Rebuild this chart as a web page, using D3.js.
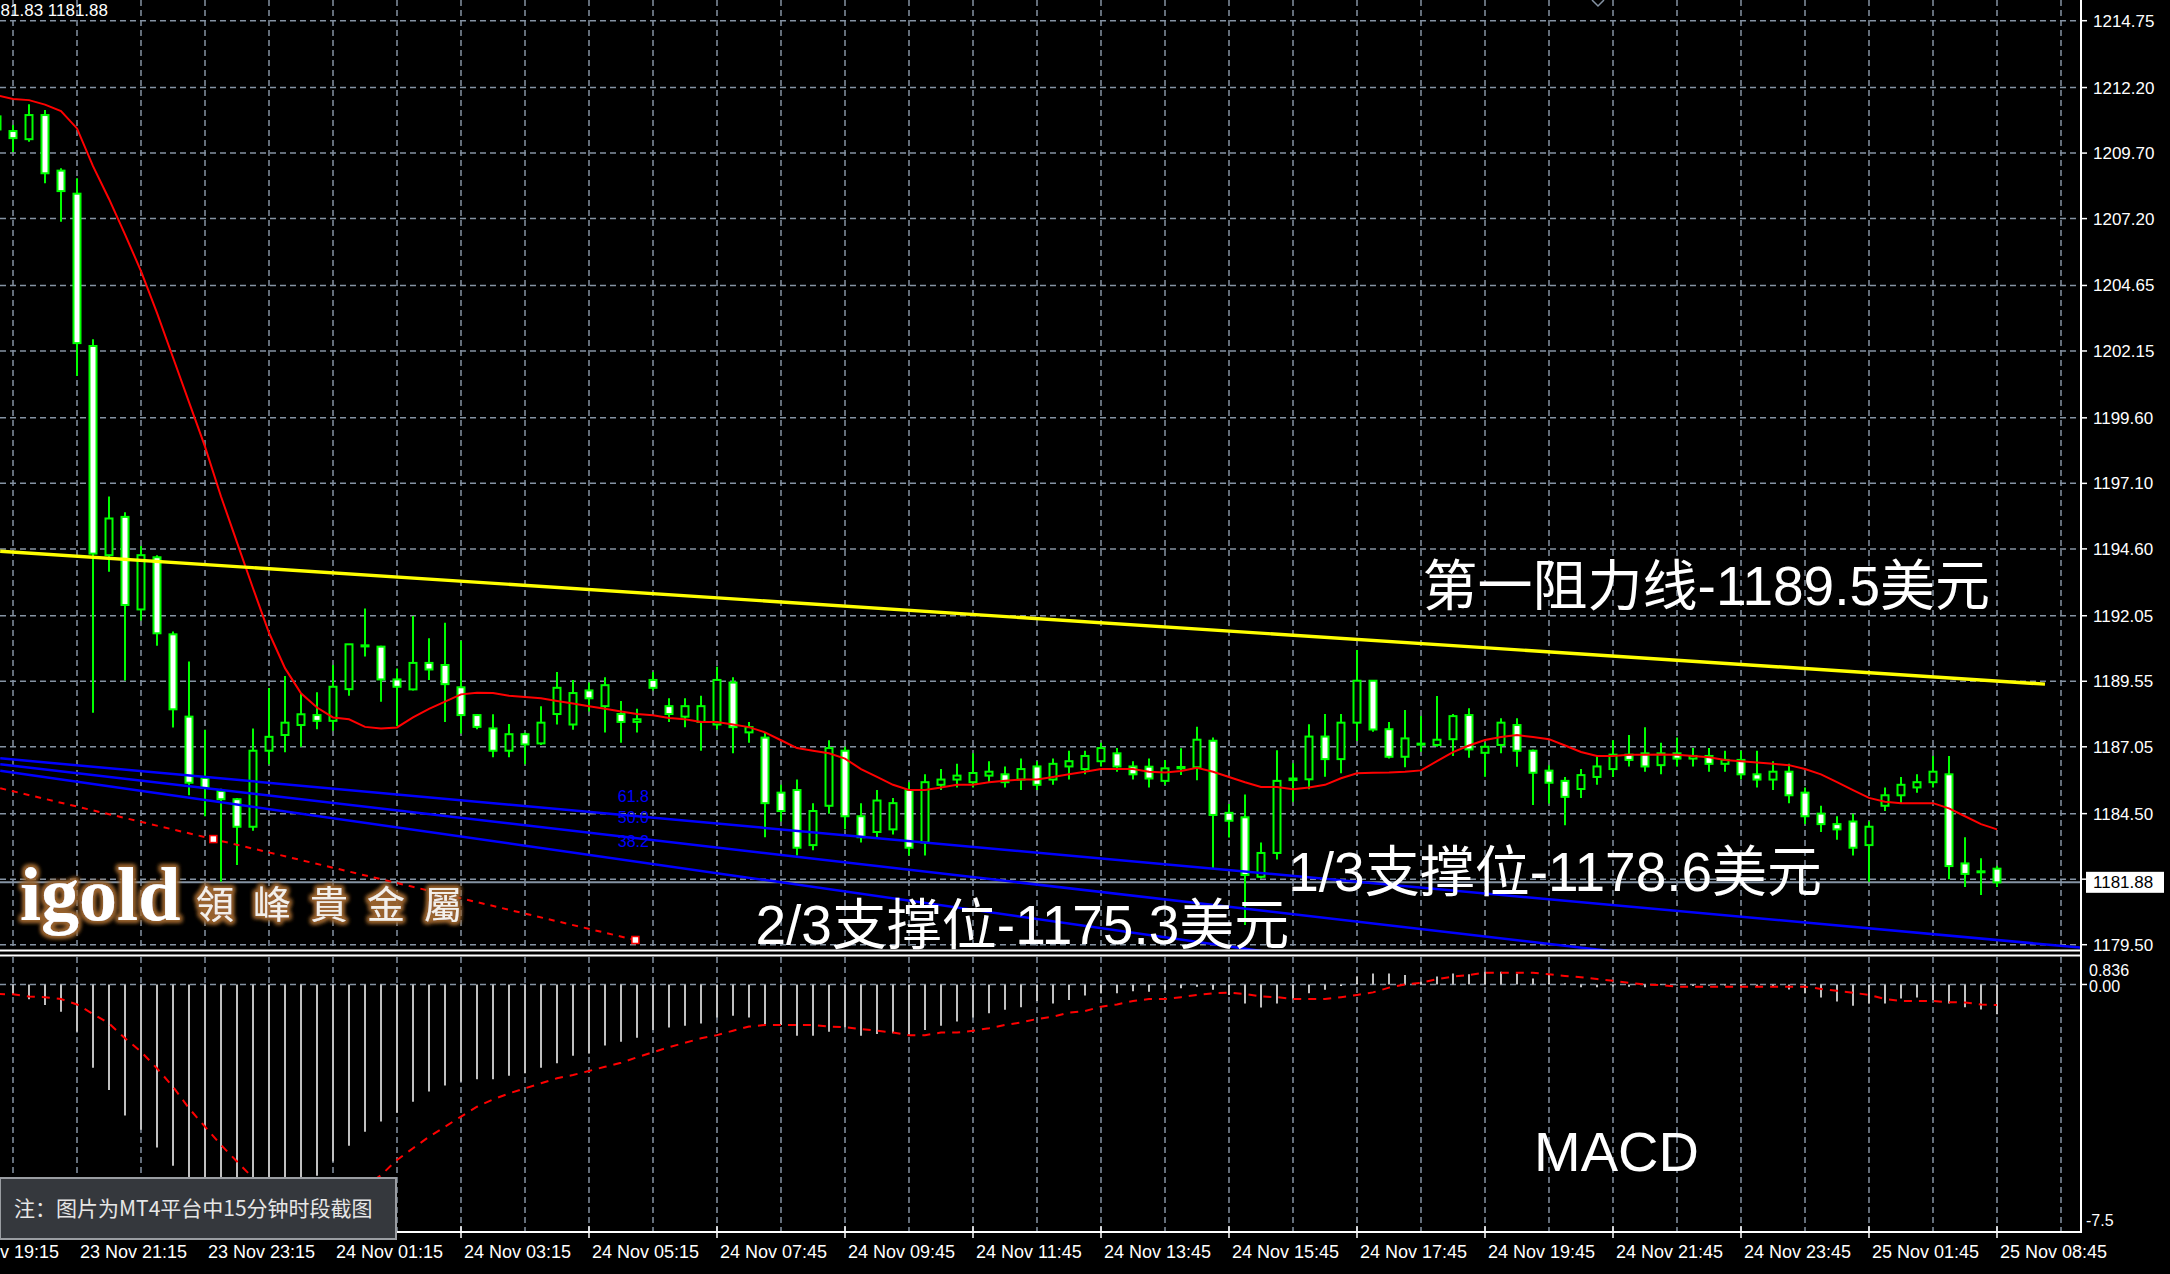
<!DOCTYPE html>
<html><head><meta charset="utf-8">
<script src="https://cdn.jsdelivr.net/npm/d3@7"></script>
<style>
html,body{margin:0;padding:0;background:#000;overflow:hidden}
svg{display:block}
</style></head>
<body>
<script>
// ---------------- DATA ----------------
const candleIdx = d3.range(-1, 125);
const opens = [1210.6,
1210.54,1210.23,1211.15,1209.03,1208.15,1202.34,1194.36,1195.82,1192.29,1194.28,
1191.34,1188.2,1185.86,1185.36,1185.05,1184.0,1186.9,1187.5,1187.88,1188.26,
1188.04,1189.25,1190.88,1190.87,1189.62,1189.24,1190.25,1190.17,1189.32,1188.26,
1187.75,1186.9,1187.53,1187.18,1188.3,1187.9,1189.2,1188.6,1188.3,1188.0,
1189.6,1188.6,1188.2,1188.0,1187.9,1189.5,1187.6,1187.4,1185.3,1185.4,
1183.3,1184.8,1186.9,1184.4,1183.8,1183.9,1185.4,1183.4,1185.6,1185.8,
1185.7,1185.95,1186.0,1185.8,1186.3,1185.8,1186.3,1186.2,1186.5,1186.8,
1186.3,1186.29,1185.75,1186.23,1186.27,1187.28,1184.53,1184.36,1182.09,1183.0,
1185.78,1185.81,1187.44,1186.58,1187.97,1189.57,1187.72,1186.67,1187.13,1187.12,
1187.34,1188.26,1186.82,1187.12,1187.88,1186.90,1186.14,1185.75,1185.44,1185.9,
1186.2,1186.75,1186.8,1186.35,1186.8,1186.6,1186.7,1186.4,1186.55,1186.0,
1185.8,1186.1,1185.3,1184.5,1184.1,1184.2,1183.3,1184.8,1185.2,1185.5,
1185.7,1186.0,1182.6,1182.3,1182.4];
const highs = [1211.3,
1210.77,1211.56,1211.34,1209.12,1208.74,1202.6,1196.6,1196.0,1194.71,1194.36,
1191.45,1190.3,1187.7,1185.45,1185.1,1187.75,1189.29,1189.75,1189.08,1189.13,
1190.17,1190.96,1192.33,1190.9,1190.04,1192.04,1191.19,1191.78,1191.1,1188.3,
1188.29,1187.92,1187.6,1188.6,1189.9,1189.6,1189.5,1189.7,1188.8,1188.5,
1189.9,1188.9,1188.9,1189.0,1190.1,1189.7,1188.0,1187.6,1185.6,1185.8,
1184.9,1187.3,1187.05,1184.9,1185.4,1185.1,1185.7,1186.0,1186.2,1186.4,
1186.8,1186.5,1186.3,1186.6,1186.5,1186.6,1186.9,1186.9,1187.2,1187.0,
1186.5,1186.6,1186.55,1186.99,1187.81,1187.4,1184.87,1185.23,1183.4,1186.92,
1186.42,1187.91,1188.30,1188.30,1190.74,1189.6,1188.0,1188.45,1188.22,1188.99,
1188.30,1188.52,1187.2,1188.14,1188.14,1186.95,1186.35,1185.9,1186.2,1186.7,
1187.3,1187.5,1187.8,1187.2,1187.4,1187.0,1187.0,1186.9,1186.9,1186.9,
1186.5,1186.4,1185.5,1184.8,1184.4,1184.5,1184.2,1185.5,1185.9,1186.0,
1186.7,1186.7,1183.6,1182.8,1182.5];
const lows = [1210.4,
1209.74,1210.13,1208.55,1207.08,1201.2,1188.35,1193.73,1189.58,1191.87,1190.90,
1187.79,1185.2,1184.4,1181.9,1182.54,1183.85,1186.38,1186.84,1187.05,1187.72,
1187.66,1189.0,1190.49,1188.77,1187.84,1189.2,1189.6,1188.0,1187.56,1187.72,
1186.65,1186.65,1186.38,1187.12,1187.9,1187.7,1188.4,1187.6,1187.2,1187.6,
1189.2,1188.0,1187.8,1186.9,1187.7,1186.8,1187.2,1183.6,1184.2,1182.9,
1183.1,1184.5,1183.9,1183.4,1183.6,1183.7,1182.9,1182.9,1185.4,1185.5,
1185.5,1185.7,1185.5,1185.4,1185.4,1185.6,1185.8,1186.0,1186.3,1186.1,
1185.8,1185.5,1185.6,1185.97,1185.77,1182.41,1183.59,1180.25,1182.03,1182.75,
1184.95,1185.43,1185.91,1186.04,1187.27,1187.62,1186.6,1186.27,1186.86,1187.05,
1186.70,1186.63,1185.91,1186.8,1186.29,1184.83,1184.89,1184.06,1185.1,1185.6,
1185.9,1186.3,1186.1,1186.0,1186.3,1186.3,1186.1,1186.1,1185.8,1185.5,
1185.4,1184.9,1184.1,1183.8,1183.5,1182.9,1181.9,1184.6,1184.9,1185.3,
1185.5,1182.0,1181.7,1181.4,1181.7];
const closes = [1211.1,
1210.27,1211.15,1208.93,1208.25,1202.45,1194.42,1195.76,1192.46,1194.36,1191.38,
1188.48,1185.68,1185.48,1185.05,1184.0,1186.9,1187.43,1187.97,1188.29,1188.04,
1189.34,1190.96,1190.92,1189.62,1189.34,1190.25,1190.0,1189.44,1188.26,1187.81,
1186.9,1187.53,1187.14,1187.97,1189.3,1189.1,1188.9,1189.4,1188.0,1188.1,
1189.3,1188.3,1188.6,1188.6,1189.6,1187.8,1187.8,1184.9,1184.6,1183.2,
1184.6,1187.0,1184.4,1183.6,1185.0,1184.9,1183.2,1185.7,1185.8,1185.95,
1186.05,1186.1,1185.7,1186.2,1185.6,1186.4,1186.5,1186.7,1187.0,1186.3,
1186.0,1185.84,1186.23,1186.28,1187.32,1184.45,1184.23,1182.16,1183.0,1185.75,
1185.84,1187.44,1186.58,1187.97,1189.57,1187.71,1186.67,1187.37,1187.17,1187.32,
1188.22,1186.95,1187.05,1187.97,1186.90,1186.06,1185.68,1185.14,1185.97,1186.3,
1186.75,1186.55,1186.3,1186.8,1186.6,1186.7,1186.4,1186.55,1186.0,1185.8,
1186.1,1185.2,1184.4,1184.1,1183.9,1183.2,1184.0,1185.2,1185.6,1185.7,
1186.1,1182.5,1182.2,1182.3,1181.88];
const maValues = [1211.9,
1211.76,1211.72,1211.55,1211.30,1210.64,1209.2,1207.95,1206.6,1205.2,1203.6,
1201.9,1200.2,1198.5,1196.6,1194.85,1193.1,1191.4,1190.05,1189.09,1188.55,
1188.17,1188.1,1187.81,1187.75,1187.79,1188.17,1188.5,1188.77,1189.05,1189.11,
1189.1,1189.0,1188.95,1188.9,1188.8,1188.7,1188.6,1188.5,1188.4,1188.3,
1188.25,1188.15,1188.1,1188.0,1188.0,1187.9,1187.8,1187.6,1187.3,1187.0,
1186.9,1186.8,1186.6,1186.2,1185.9,1185.6,1185.4,1185.4,1185.5,1185.6,
1185.6,1185.7,1185.75,1185.8,1185.8,1185.9,1186.0,1186.1,1186.2,1186.2,
1186.2,1186.1,1186.07,1186.13,1186.25,1186.1,1185.9,1185.7,1185.52,1185.52,
1185.43,1185.5,1185.6,1185.85,1186.04,1186.06,1186.07,1186.1,1186.15,1186.5,
1186.85,1187.1,1187.31,1187.42,1187.5,1187.42,1187.34,1187.1,1186.85,1186.7,
1186.7,1186.75,1186.75,1186.76,1186.75,1186.7,1186.65,1186.55,1186.5,1186.45,
1186.4,1186.35,1186.2,1186.0,1185.7,1185.4,1185.1,1184.95,1184.9,1184.9,
1184.9,1184.7,1184.4,1184.1,1183.9];
const macdHist = [-0.25,
-0.33,-0.47,-0.65,-0.86,-1.49,-2.63,-3.33,-4.14,-4.59,-5.15,
-5.72,-6.2,-6.6,-6.95,-7.25,-7.45,-7.5,-7.1,-6.6,-6.04,
-5.59,-5.09,-4.65,-4.33,-4.05,-3.70,-3.38,-3.19,-3.07,-2.99,
-2.99,-2.88,-2.80,-2.63,-2.49,-2.25,-2.18,-1.93,-1.81,-1.68,
-1.44,-1.36,-1.30,-1.23,-1.04,-0.99,-1.04,-1.25,-1.28,-1.62,
-1.62,-1.49,-1.35,-1.62,-1.56,-1.54,-1.60,-1.44,-1.30,-1.17,
-1.04,-0.91,-0.80,-0.72,-0.52,-0.60,-0.49,-0.35,-0.28,-0.28,
-0.21,-0.23,-0.17,-0.12,-0.07,-0.17,-0.33,-0.60,-0.73,-0.60,
-0.44,-0.28,-0.17,-0.05,0.25,0.35,0.35,0.30,0.09,0.25,
0.35,0.32,0.40,0.40,0.35,0.19,0.30,0.03,-0.09,-0.09,
-0.07,-0.07,-0.09,-0.02,-0.03,-0.05,-0.04,-0.03,-0.05,-0.06,
-0.08,-0.16,-0.28,-0.41,-0.54,-0.67,-0.60,-0.60,-0.44,-0.41,
-0.49,-0.60,-0.72,-0.79,-0.94];
const macdSignal = [-0.30,
-0.31,-0.38,-0.40,-0.46,-0.63,-0.93,-1.23,-1.70,-2.12,-2.65,
-3.23,-3.91,-4.49,-5.07,-5.59,-6.11,-6.5,-6.8,-6.95,-7.0,
-6.9,-6.7,-6.4,-6.02,-5.54,-5.17,-4.81,-4.49,-4.17,-3.86,
-3.63,-3.44,-3.28,-3.12,-2.96,-2.86,-2.73,-2.60,-2.47,-2.30,
-2.14,-1.98,-1.84,-1.70,-1.60,-1.46,-1.33,-1.28,-1.28,-1.28,
-1.28,-1.33,-1.35,-1.41,-1.46,-1.52,-1.60,-1.60,-1.52,-1.52,
-1.46,-1.38,-1.28,-1.20,-1.09,-1.02,-0.89,-0.84,-0.70,-0.63,
-0.52,-0.46,-0.46,-0.40,-0.33,-0.28,-0.26,-0.30,-0.38,-0.40,
-0.46,-0.46,-0.46,-0.40,-0.33,-0.25,-0.10,0.0,0.05,0.17,
0.25,0.30,0.37,0.37,0.37,0.37,0.32,0.27,0.23,0.17,
0.12,0.05,0.0,-0.02,-0.07,-0.07,-0.07,-0.07,-0.07,-0.07,
-0.07,-0.07,-0.07,-0.14,-0.20,-0.26,-0.33,-0.46,-0.52,-0.52,
-0.52,-0.56,-0.57,-0.63,-0.65];

const priceTicks = [1214.75,1212.20,1209.70,1207.20,1204.65,1202.15,1199.60,1197.10,1194.60,1192.05,1189.55,1187.05,1184.50,1182.00,1179.50];
const currentPrice = 1181.88;
const macdTickValues = [0.836, 0.00, -7.5];
const macdTickLabels = ["0.836", "0.00", "-7.5"];
const timeLabels = ["23 Nov 19:15","23 Nov 21:15","23 Nov 23:15","24 Nov 01:15","24 Nov 03:15","24 Nov 05:15","24 Nov 07:45","24 Nov 09:45","24 Nov 11:45","24 Nov 13:45","24 Nov 15:45","24 Nov 17:45","24 Nov 19:45","24 Nov 21:45","24 Nov 23:45","25 Nov 01:45","25 Nov 08:45"];
const timeLabelIdx = [-4,4,12,20,28,36,44,52,60,68,76,84,92,100,108,116,124];

// trend objects: [candle index, price]
const resistLine = [[-0.8,1194.51],[127.0,1189.44]];
const fanLines = [
  [[-0.8,1186.61],[129.2,1179.39]],
  [[-0.8,1186.38],[129.2,1177.18]],
  [[-0.8,1186.14],[129.2,1174.79]]
];
const fanLabels = ["61.8","50.0","38.2"];
const fanLabelPrices = [1185.17,1184.37,1183.45];
const fanLabelIdx = 37.8;
const dottedAnchors = [[12.52,1183.53],[38.9,1179.68]];
const dottedStart = [-0.8,1185.47];

// annotation texts: anchored at [candle index, baseline price]
const annTexts = ["第一阻力线-1189.5美元","1/3支撑位-1178.6美元","2/3支撑位-1175.3美元"];
const annIdx = [88.1, 79.7, 46.4];
const annBasePrice = [1192.46, 1181.55, 1179.52];

// ---------------- SCALES ----------------
const W=2170,H=1274;
const xS = d3.scaleLinear().domain([0,124]).range([13,1997]);
const yP = d3.scaleLinear().domain([1179.50,1214.75]).range([944.7,20.7]);
const yM = d3.scaleLinear().domain([-7.5,0.836]).range([1222,958]);
const AX = 2081; // right axis x
const gridColor = "#8593a3";

const svg = d3.select("body").append("svg").attr("width",W).attr("height",H).style("background","#000");
const defs = svg.append("defs");
defs.append("clipPath").attr("id","clipP").append("rect").attr("x",0).attr("y",0).attr("width",AX-1).attr("height",950);
defs.append("clipPath").attr("id","clipM").append("rect").attr("x",0).attr("y",957).attr("width",AX-1).attr("height",274);
const f = defs.append("filter").attr("id","glow").attr("x","-20%").attr("y","-40%").attr("width","140%").attr("height","180%");
f.append("feMorphology").attr("in","SourceAlpha").attr("operator","dilate").attr("radius",1.5).attr("result","d");
f.append("feGaussianBlur").attr("in","d").attr("stdDeviation",2.2).attr("result","b");
f.append("feFlood").attr("flood-color","#9a6430").attr("result","c");
f.append("feComposite").attr("in","c").attr("in2","b").attr("operator","in").attr("result","s");
const fm = f.append("feMerge"); fm.append("feMergeNode").attr("in","s"); fm.append("feMergeNode").attr("in","s"); fm.append("feMergeNode").attr("in","SourceGraphic");

// ---------------- GRID ----------------
const gP = svg.append("g").attr("clip-path","url(#clipP)");
const gM = svg.append("g").attr("clip-path","url(#clipM)");
const gridIdx = d3.range(0, 132, 4);
gP.selectAll("line.vg").data(gridIdx).join("line").attr("class","vg")
  .attr("x1",d=>xS(d)).attr("x2",d=>xS(d)).attr("y1",0).attr("y2",950)
  .attr("stroke",gridColor).attr("stroke-width",1.5).attr("stroke-dasharray","6,4");
gP.selectAll("line.hg").data(priceTicks).join("line").attr("class","hg")
  .attr("x1",0).attr("x2",AX).attr("y1",d=>yP(d)).attr("y2",d=>yP(d))
  .attr("stroke",gridColor).attr("stroke-width",1.5).attr("stroke-dasharray","6,4");
gM.selectAll("line.vg").data(gridIdx).join("line").attr("class","vg")
  .attr("x1",d=>xS(d)).attr("x2",d=>xS(d)).attr("y1",957).attr("y2",1231)
  .attr("stroke",gridColor).attr("stroke-width",1.5).attr("stroke-dasharray","6,4");
gM.append("line").attr("x1",0).attr("x2",AX).attr("y1",yM(0)).attr("y2",yM(0))
  .attr("stroke",gridColor).attr("stroke-width",1.5).attr("stroke-dasharray","6,4");

// current price line
gP.append("line").attr("x1",0).attr("x2",AX).attr("y1",yP(currentPrice)).attr("y2",yP(currentPrice))
  .attr("stroke","#8593a3").attr("stroke-width",2);

// ---------------- CANDLES ----------------
const candles = candleIdx.map((idx,k)=>({i:idx,o:opens[k],h:highs[k],l:lows[k],c:closes[k],ma:maValues[k],mh:macdHist[k],ms:macdSignal[k]}));
const bodyW = 7;
gP.selectAll("line.wick").data(candles).join("line").attr("class","wick")
  .attr("x1",d=>xS(d.i)).attr("x2",d=>xS(d.i)).attr("y1",d=>yP(d.h)).attr("y2",d=>yP(d.l))
  .attr("stroke","#00ff00").attr("stroke-width",2);
gP.selectAll("rect.body").data(candles).join("rect").attr("class","body")
  .attr("x",d=>xS(d.i)-bodyW/2).attr("y",d=>yP(Math.max(d.o,d.c)))
  .attr("width",bodyW).attr("height",d=>Math.max(1,yP(Math.min(d.o,d.c))-yP(Math.max(d.o,d.c))))
  .attr("fill",d=>d.c>=d.o?"#000":"#fff").attr("stroke","#00ff00").attr("stroke-width",2);

// ---------------- LINES / OBJECTS ----------------
const lineGen = d3.line().x(d=>xS(d[0])).y(d=>yP(d[1]));
gP.append("path").attr("d",lineGen(candles.map(d=>[d.i,d.ma]))).attr("fill","none").attr("stroke","#ff0000").attr("stroke-width",2);
gP.append("path").attr("d",lineGen(resistLine)).attr("fill","none").attr("stroke","#ffff00").attr("stroke-width",3.4);
fanLines.forEach(l=>{
  gP.append("path").attr("d",lineGen(l)).attr("fill","none").attr("stroke","#0000ff").attr("stroke-width",2.5);
});
gP.selectAll("text.fib").data(fanLabels).join("text").attr("class","fib")
  .attr("x",xS(fanLabelIdx)).attr("y",(d,k)=>yP(fanLabelPrices[k])+6)
  .attr("fill","#0000ff").attr("font-family","Liberation Sans, Arial, sans-serif").attr("font-size",16).text(d=>d);
gP.append("path").attr("d",lineGen([dottedStart, dottedAnchors[1]])).attr("fill","none")
  .attr("stroke","#ff0000").attr("stroke-width",2).attr("stroke-dasharray","6,6");
gP.selectAll("rect.anc").data(dottedAnchors).join("rect").attr("class","anc")
  .attr("x",d=>xS(d[0])-3.5).attr("y",d=>yP(d[1])-3.5).attr("width",7).attr("height",7)
  .attr("fill","#fff").attr("stroke","#ff0000").attr("stroke-width",1.5);

// ---------------- MACD ----------------
gM.selectAll("line.mh").data(candles).join("line").attr("class","mh")
  .attr("x1",d=>xS(d.i)).attr("x2",d=>xS(d.i)).attr("y1",yM(0)).attr("y2",d=>yM(d.mh))
  .attr("stroke","#c0c0c0").attr("stroke-width",2);
const lineM = d3.line().x(d=>xS(d.i)).y(d=>yM(d.ms));
gM.append("path").attr("d",lineM(candles)).attr("fill","none").attr("stroke","#ff0000").attr("stroke-width",2).attr("stroke-dasharray","8,7");

// ---------------- WATERMARK ----------------
const wm = svg.append("g").attr("filter","url(#glow)");
wm.append("text").attr("x",20).attr("y",920).attr("fill","#fff")
  .attr("font-family","Liberation Serif, Times New Roman, serif").attr("font-weight","bold").attr("font-size",76).text("igold");
wm.append("text").attr("x",196).attr("y",918).attr("fill","#f4f0ea")
  .attr("font-family","Noto Sans CJK TC, sans-serif").attr("font-size",38).attr("letter-spacing",19).text("領峰貴金屬");

// ---------------- ANNOTATIONS ----------------
svg.selectAll("text.ann").data(annTexts).join("text").attr("class","ann")
  .attr("x",(d,k)=>xS(annIdx[k])).attr("y",(d,k)=>yP(annBasePrice[k]))
  .attr("fill","#fff").attr("font-family","Liberation Sans, Noto Sans CJK SC, sans-serif").attr("font-size",55).text(d=>d);
svg.append("text").attr("x",1534).attr("y",1171).attr("fill","#fff")
  .attr("font-family","Liberation Sans, Arial, sans-serif").attr("font-size",56).text("MACD");

// ---------------- AXES & BORDERS ----------------
const axisFont = "Liberation Sans, Arial, sans-serif";
svg.append("line").attr("x1",0).attr("x2",AX).attr("y1",950.5).attr("y2",950.5).attr("stroke","#fff").attr("stroke-width",2);
svg.append("line").attr("x1",0).attr("x2",AX).attr("y1",955.5).attr("y2",955.5).attr("stroke","#fff").attr("stroke-width",2);
svg.append("line").attr("x1",AX).attr("x2",AX).attr("y1",0).attr("y2",1233).attr("stroke","#fff").attr("stroke-width",2);
svg.append("line").attr("x1",0).attr("x2",AX+1).attr("y1",1232).attr("y2",1232).attr("stroke","#fff").attr("stroke-width",2);
// price ticks & labels
svg.selectAll("line.pt").data(priceTicks).join("line").attr("class","pt")
  .attr("x1",AX).attr("x2",AX+6).attr("y1",d=>yP(d)).attr("y2",d=>yP(d)).attr("stroke","#fff").attr("stroke-width",1.5);
svg.selectAll("text.pl").data(priceTicks).join("text").attr("class","pl")
  .attr("x",AX+12).attr("y",d=>yP(d)+6).attr("fill","#fff").attr("font-family",axisFont).attr("font-size",17)
  .text(d=>d.toFixed(2));
// current price box
const cy = yP(currentPrice);
svg.append("rect").attr("x",AX+5).attr("y",cy-10.5).attr("width",78).attr("height",21).attr("fill","#fff");
svg.append("text").attr("x",AX+12).attr("y",cy+6).attr("fill","#000").attr("font-family",axisFont).attr("font-size",17).text(currentPrice.toFixed(2));
// MACD labels
svg.selectAll("text.ml").data(macdTickValues).join("text").attr("class","ml")
  .attr("x",(d,k)=>k===2?AX+5:AX+8).attr("y",(d,k)=>k===0?976:(k===1?992:1226))
  .attr("fill","#fff").attr("font-family",axisFont).attr("font-size",16).text((d,k)=>macdTickLabels[k]);
svg.append("line").attr("x1",AX).attr("x2",AX+6).attr("y1",yM(0)).attr("y2",yM(0)).attr("stroke","#fff").attr("stroke-width",1.5);
// time ticks & labels
svg.selectAll("line.tt").data(timeLabelIdx).join("line").attr("class","tt")
  .attr("x1",d=>xS(d)).attr("x2",d=>xS(d)).attr("y1",1226).attr("y2",1238).attr("stroke","#fff").attr("stroke-width",1.5);
svg.selectAll("text.tl").data(timeLabels).join("text").attr("class","tl")
  .attr("x",(d,k)=>xS(timeLabelIdx[k])+3).attr("y",1258).attr("fill","#fff")
  .attr("font-family",axisFont).attr("font-size",18).text(d=>d);

// header
svg.append("text").attr("x",108).attr("y",16).attr("text-anchor","end").attr("fill","#fff")
  .attr("font-family",axisFont).attr("font-size",17).text("1181.83 1181.88");
svg.append("path").attr("d","M1592,0 L1598,6 L1604,0").attr("fill","none").attr("stroke","#8593a3").attr("stroke-width",1.5);

// note box
svg.append("rect").attr("x",0).attr("y",1178).attr("width",396).attr("height",61)
  .attr("fill","#35383d").attr("stroke","#9a9da2").attr("stroke-width",2);
svg.append("text").attr("x",14).attr("y",1216).attr("fill","#e6e6e6")
  .attr("font-family","Noto Sans CJK SC, sans-serif").attr("font-size",21).text("注：图片为MT4平台中15分钟时段截图");
</script>
</body></html>
